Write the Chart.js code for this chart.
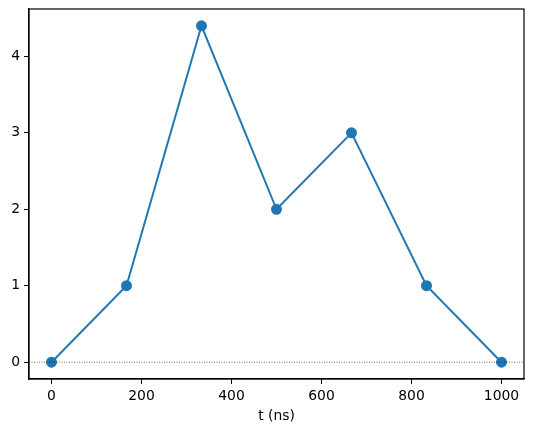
<!DOCTYPE html>
<html>
<head>
<meta charset="utf-8">
<script src="https://cdn.jsdelivr.net/npm/chart.js@4"></script>
<style>
  html, body { margin: 0; padding: 0; background: #fff; }
  #wrap { width: 534px; height: 432px; }
</style>
</head>
<body>
<div id="wrap"><canvas id="chart"></canvas></div>
<script>
// data
const tValues = [0, 166.67, 333.33, 500, 666.67, 833.33, 1000];
const yValues = [0, 1, 4.4, 2, 3, 1, 0];
const xTicks = [0, 200, 400, 600, 800, 1000];
const yTicks = [0, 1, 2, 3, 4];
const xLabel = 't (ns)';

const points = tValues.map(function (t, i) { return { x: t, y: yValues[i] }; });
const blue = '#1f77b4';
const font = { family: 'DejaVu Sans', size: 13.9 };

new Chart(document.getElementById('chart'), {
    type: 'scatter',
    data: {
        datasets: [{
            data: [{ x: -50, y: 0 }, { x: 1050, y: 0 }],
            showLine: true,
            borderColor: '#000',
            borderWidth: 0.6,
            borderDash: [1, 1.5],
            pointRadius: 0
        }, {
            data: points,
            showLine: true,
            borderColor: blue,
            backgroundColor: blue,
            borderWidth: 2,
            pointRadius: 4.5,
            pointHoverRadius: 4.5
        }]
    },
    options: {
        responsive: true,
        maintainAspectRatio: false,
        animation: false,
        layout: { padding: { left: 0, right: 10, top: 9, bottom: 7 } },
        plugins: { legend: { display: false }, tooltip: { enabled: false } },
        scales: {
            x: {
                type: 'linear',
                min: -50,
                max: 1050,
                afterBuildTicks: function (axis) { axis.ticks = xTicks.map(function (v) { return { value: v }; }); },
                afterFit: function (axis) { axis.height = 46; axis.paddingLeft = 0; axis.paddingRight = 0; },
                grid: { drawOnChartArea: false, tickLength: 5, color: '#000', tickWidth: 1 },
                border: { color: '#000', width: 1.2 },
                ticks: {
                    color: '#000', font: font, padding: 4, maxRotation: 0,
                    callback: function (v) { return String(v); }
                },
                title: { display: true, text: xLabel, color: '#000', font: font, padding: 0 }
            },
            y: {
                type: 'linear',
                min: -0.22,
                max: 4.62,
                afterBuildTicks: function (axis) { axis.ticks = yTicks.map(function (v) { return { value: v }; }); },
                afterFit: function (axis) { axis.width = 29; axis.paddingTop = 0; axis.paddingBottom = 0; },
                grid: { drawOnChartArea: false, tickLength: 5, color: '#000', tickWidth: 1 },
                border: { color: '#000', width: 1.2 },
                ticks: { color: '#000', font: font, padding: 4 }
            }
        }
    },
    plugins: [{
        id: 'frame',
        afterDraw: function (chart) {
            const a = chart.chartArea, c = chart.ctx;
            c.save();
            c.strokeStyle = '#000';
            c.lineWidth = 1.2;
            c.strokeRect(a.left, a.top, a.right - a.left, a.bottom - a.top);
            c.restore();
        }
    }]
});
</script>
</body>
</html>
